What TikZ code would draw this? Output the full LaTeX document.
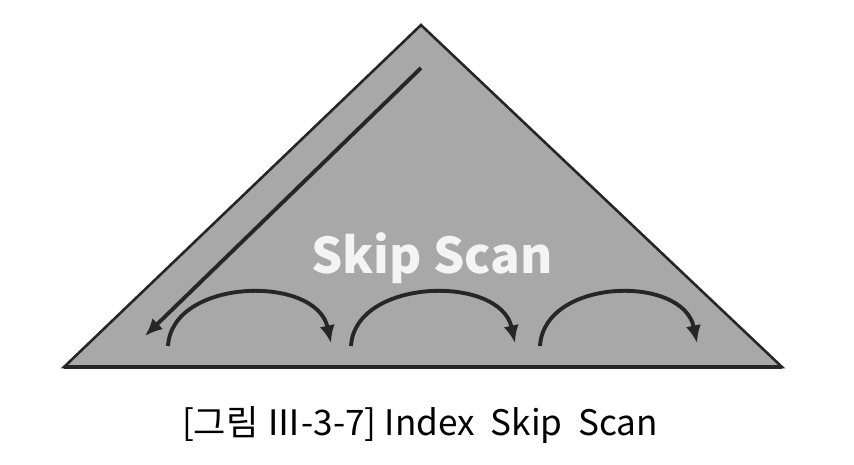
\documentclass[tikz,border=0pt]{standalone}
\usepackage{fontspec}
\usepackage{tikz}
\usetikzlibrary{arrows.meta,calc,positioning}
\setmainfont{Noto Sans CJK KR}
\definecolor{trifill}{RGB}{168,168,168}
\definecolor{labelwhite}{RGB}{244,244,244}
\tikzset{%
	idxtree/.style = {draw=black!85, fill=trifill, line width=2.2pt, line join=miter},
	basebar/.style = {draw=black!85, line width=3pt},
	scanarrow/.style = {draw=black!85, line width=3.3pt, -{Latex[length=15pt,width=13pt]}},
	hop/.style = {draw=black!85, line width=3.3pt, -{Latex[length=15pt,width=13pt]}},
}
\begin{document}
\begin{tikzpicture}[x=0.03cm,y=-0.03cm]
	\useasboundingbox (0,0) rectangle (854,464);
	% index tree
	\coordinate (apex) at (421,25);
	\coordinate (lb) at (64,367);
	\coordinate (rb) at (782,367);
	\path[idxtree] (apex) -- (rb) -- (lb) -- cycle;
	\draw[basebar] (lb) -- (rb);
	\node (title) at (432,258) {\color{labelwhite}\fontsize{42}{42}\selectfont\bfseries Skip Scan};
	% descending scan
	\coordinate (top) at (421,68);
	\coordinate (leaf) at (145,336);
	\draw[scanarrow] (top) -- (leaf);
	% skips along the leaves
	\coordinate (s1) at (168,346); \coordinate (e1) at (331,343);
	\coordinate (s2) at (351,346); \coordinate (e2) at (515,343);
	\coordinate (s3) at (540,346); \coordinate (e3) at (697,343);
	\draw[hop] (s1) .. controls (172,278) and (316,274) .. (e1);
	\draw[hop] (s2) .. controls (355,278) and (500,274) .. (e2);
	\draw[hop] (s3) .. controls (544,278) and (683,274) .. (e3);
	% caption
	\node (caption) at (420,425) {\fontsize{30}{30}\selectfont [그림 Ⅲ-3-7] Index\ \ Skip\ \ Scan};
\end{tikzpicture}
\end{document}
